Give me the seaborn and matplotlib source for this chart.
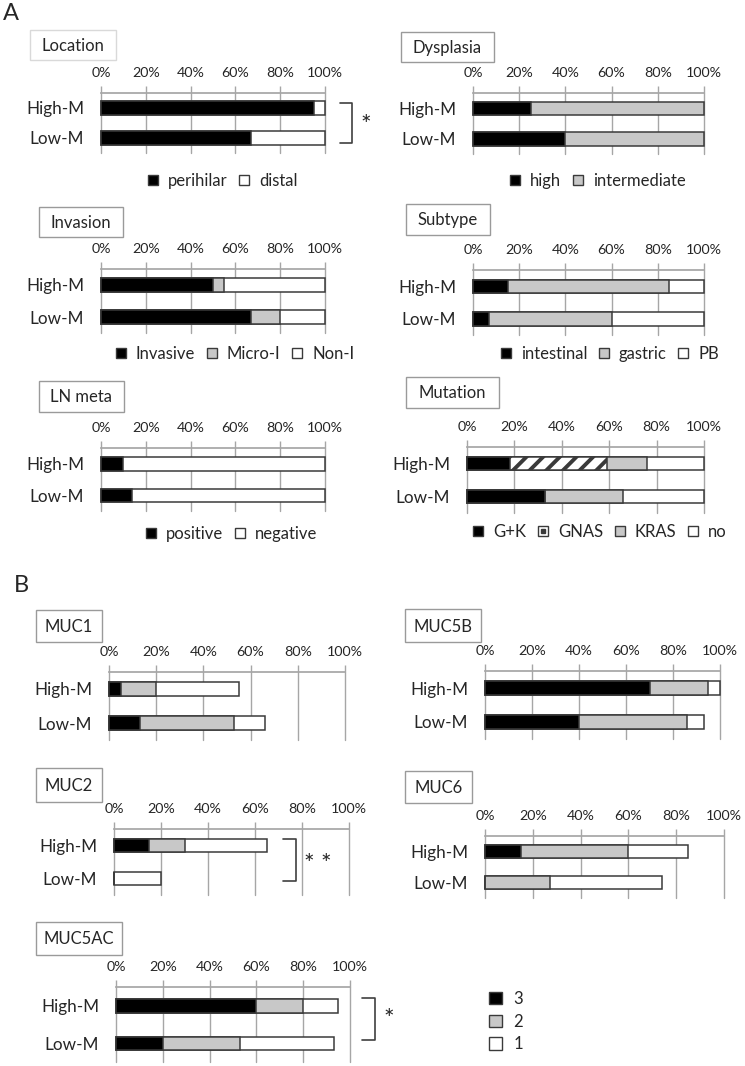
import numpy as np
import pandas as pd
import seaborn as sns
import matplotlib.pyplot as plt
from matplotlib.patches import Patch, Rectangle
from matplotlib.lines import Line2D
from matplotlib.legend_handler import HandlerTuple


# Data
groups = ['High-M', 'Low-M']

location_cats = ['perihilar', 'distal']
location_high = [95, 5]
location_low = [67, 33]

dysplasia_cats = ['high', 'intermediate']
dysplasia_high = [25, 75]
dysplasia_low = [40, 60]

invasion_cats = ['Invasive', 'Micro-I', 'Non-I']
invasion_high = [50, 5, 45]
invasion_low = [67, 13, 20]

subtype_cats = ['intestinal', 'gastric', 'PB']
subtype_high = [15, 70, 15]
subtype_low = [7, 53, 40]

ln_cats = ['positive', 'negative']
ln_high = [10, 90]
ln_low = [14, 86]

mutation_cats = ['G+K', 'GNAS', 'KRAS', 'no']
mutation_high = [18, 41, 17, 24]
mutation_low = [33, 0, 33, 34]

muc_grades = ['3', '2', '1']
muc1_high = [5, 15, 35]
muc1_low = [13, 40, 13]
muc5b_high = [70, 25, 5]
muc5b_low = [40, 46, 7]
muc2_high = [15, 15, 35]
muc2_low = [0, 0, 20]
muc6_high = [15, 45, 25]
muc6_low = [0, 27, 47]
muc5ac_high = [60, 20, 15]
muc5ac_low = [20, 33, 40]

ticks = [0, 20, 40, 60, 80, 100]

BLACK, GREY, WHITE = '#000000', '#c8c8c8', '#ffffff'
EDGE = '#3a3a3a'
GRID = '#a6a6a6'

sns.set_theme(style='white')
plt.rcParams['font.family'] = ['Lato', 'DejaVu Sans']
plt.rcParams['hatch.linewidth'] = 2.8

W, H = 745, 1066
fig = plt.figure(figsize=(W / 100, H / 100), dpi=100)


def fx(x):
    return x / W


def fy(y):
    return 1 - y / H


def stacked_panel(box, cats, high, low, colors, hatches=None):
    x0, x1, top, bottom = box
    ax = fig.add_axes([fx(x0), fy(bottom), (x1 - x0) / W, (bottom - top) / H])
    hatches = hatches or [None] * len(cats)
    cum = pd.DataFrame([high, low], index=groups, columns=cats).cumsum(axis=1)
    plot_df = cum.reset_index(names='group')
    bar_w = 13.5 / ((bottom - top) / 2)
    for cat, color, hatch in reversed(list(zip(cats, colors, hatches))):
        sns.barplot(data=plot_df, x=cat, y='group', orient='h', color=color,
                    saturation=1, width=bar_w, errorbar=None, edgecolor=EDGE,
                    linewidth=1.1, hatch=hatch, ax=ax)
    for p in ax.patches:
        p.set_clip_on(False)
    ax.set_xlim(0, 100)
    ax.set_ylim(1.5, -0.5)
    ax.set_xlabel('')
    ax.set_ylabel('')
    ax.xaxis.tick_top()
    ax.set_xticks(ticks)
    ax.set_xticklabels([f'{t}%' for t in ticks])
    ax.tick_params(axis='x', length=5, width=1, color=GRID, labelsize=10.3, pad=5)
    ax.tick_params(axis='y', length=0, labelsize=12.3, pad=12)
    ax.grid(axis='x', color=GRID, linewidth=1)
    ax.set_axisbelow(True)
    for line in ax.get_xgridlines():
        line.set_clip_on(False)
    for s in ['left', 'right', 'bottom']:
        ax.spines[s].set_visible(False)
    ax.spines['top'].set_color(GRID)
    return ax


def panel_legend(ax, cats, colors, center, dotted=None):
    handles = []
    for n, c in zip(cats, colors):
        box = Patch(facecolor=c, edgecolor=EDGE, linewidth=1)
        if n == dotted:
            dot = Line2D([], [], marker='s', markersize=2.2, color=EDGE, linestyle='')
            handles.append((box, dot))
        else:
            handles.append(box)
    ax.legend(handles=handles, labels=cats, loc='center',
              bbox_to_anchor=(fx(center[0]), fy(center[1])),
              bbox_transform=fig.transFigure, ncol=len(cats), frameon=False,
              handlelength=0.6, handleheight=0.6, handletextpad=0.6,
              columnspacing=0.7, fontsize=12,
              handler_map={tuple: HandlerTuple(ndivide=1, pad=0)})


def title_box(text, x0, y0, x1, y1, edge='#9a9a9a'):
    fig.add_artist(Rectangle((fx(x0), fy(y1)), (x1 - x0) / W, (y1 - y0) / H,
                             transform=fig.transFigure, facecolor='white',
                             edgecolor=edge, linewidth=1))
    fig.text(fx((x0 + x1) / 2), fy((y0 + y1) / 2 + 1), text, ha='center', va='center', fontsize=12)


def bracket(x0, x1, y0, y1, label, lx, ly):
    fig.add_artist(Line2D([fx(x0), fx(x1), fx(x1), fx(x0)], [fy(y0), fy(y0), fy(y1), fy(y1)],
                          transform=fig.transFigure, color='#404040', linewidth=1.2))
    fig.text(fx(lx), fy(ly), label, ha='center', va='baseline', fontsize=18)


# Panel A
ax = stacked_panel((101, 325, 93, 153), location_cats, location_high, location_low, [BLACK, WHITE])
panel_legend(ax, location_cats, [BLACK, WHITE], (223, 181))
title_box('Location', 30, 30, 116, 60, edge='#d9d9d9')

ax = stacked_panel((473, 704, 93, 154), dysplasia_cats, dysplasia_high, dysplasia_low, [BLACK, GREY])
panel_legend(ax, dysplasia_cats, [BLACK, GREY], (598, 181))
title_box('Dysplasia', 401, 32, 494, 62)

ax = stacked_panel((101, 325, 269, 333), invasion_cats, invasion_high, invasion_low, [BLACK, GREY, WHITE])
panel_legend(ax, invasion_cats, [BLACK, GREY, WHITE], (235, 354))
title_box('Invasion', 39, 207, 123, 237)

ax = stacked_panel((473, 704, 270, 335), subtype_cats, subtype_high, subtype_low, [BLACK, GREY, WHITE])
panel_legend(ax, subtype_cats, [BLACK, GREY, WHITE], (610, 354))
title_box('Subtype', 406, 204, 490, 235)

ax = stacked_panel((101, 325, 448, 511), ln_cats, ln_high, ln_low, [BLACK, WHITE])
panel_legend(ax, ln_cats, [BLACK, WHITE], (232, 534))
title_box('LN meta', 39, 381, 124, 412)

mut_colors = [BLACK, WHITE, GREY, WHITE]
ax = stacked_panel((467, 704, 447, 513), mutation_cats, mutation_high, mutation_low,
                   mut_colors, hatches=[None, '//', None, None])
panel_legend(ax, mutation_cats, mut_colors, (600, 532), dotted='GNAS')
title_box('Mutation', 406, 377, 499, 408)

# Panel B
muc_colors = [BLACK, GREY, WHITE]
stacked_panel((109, 345, 672, 740), muc_grades, muc1_high, muc1_low, muc_colors)
title_box('MUC1', 36, 610, 102, 642)
stacked_panel((485, 720, 671, 739), muc_grades, muc5b_high, muc5b_low, muc_colors)
title_box('MUC5B', 405, 609, 481, 642)
stacked_panel((114, 349, 829, 895), muc_grades, muc2_high, muc2_low, muc_colors)
title_box('MUC2', 36, 768, 102, 802)
stacked_panel((485, 724, 836, 898), muc_grades, muc6_high, muc6_low, muc_colors)
title_box('MUC6', 405, 771, 472, 803)
ax = stacked_panel((116, 350, 987, 1062), muc_grades, muc5ac_high, muc5ac_low, muc_colors)
title_box('MUC5AC', 36, 922, 122, 955)

handles = [Patch(facecolor=c, edgecolor=EDGE, linewidth=1, label=g) for g, c in zip(muc_grades, muc_colors)]
ax.legend(handles=handles, loc='upper left', bbox_to_anchor=(fx(474), fy(976)),
          bbox_transform=fig.transFigure, frameon=False, handlelength=0.75, handleheight=0.75,
          handletextpad=0.7, labelspacing=0.4, fontsize=12)

# Significance marks
bracket(340, 352, 103, 143, '*', 366, 133)
bracket(283, 296, 839, 881, '* *', 318, 872)
bracket(362, 375, 998, 1040, '*', 389, 1027)

fig.text(fx(3), fy(14), 'A', ha='left', va='center', fontsize=17)
fig.text(fx(14), fy(585), 'B', ha='left', va='center', fontsize=17)

fig.savefig('out.png', dpi=100)
